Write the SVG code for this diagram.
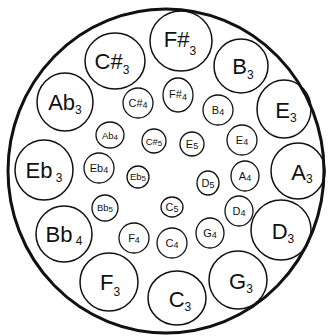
<svg xmlns="http://www.w3.org/2000/svg" width="329" height="336" viewBox="0 0 329 336">
<style>
.o{fill:none;stroke:#111;stroke-width:3}
.c{fill:none;stroke:#111;stroke-width:1.5}
.s{fill:none;stroke:#111;stroke-width:1.3}
text{font-family:"Liberation Sans","DejaVu Sans",sans-serif;fill:#111;text-anchor:middle}
.L{font-size:22px}
.M{font-size:11px}
.N{font-size:9.5px}
.d{font-size:12px}
.e{font-size:9px}
.f{font-size:8px}
</style>
<rect width="329" height="336" fill="#fff"/>
<ellipse class="o" cx="166" cy="171" rx="158" ry="162"/>
<g id="C_sharp3"><ellipse class="c" cx="115" cy="61" rx="30" ry="28"/><text class="L" x="112" y="69">C#<tspan class="d" dy="5">3</tspan></text></g>
<g id="F_sharp3"><ellipse class="c" cx="181" cy="41" rx="31" ry="30"/><text class="L" x="180" y="47">F#<tspan class="d" dy="8">3</tspan></text></g>
<g id="B3"><ellipse class="c" cx="241" cy="66" rx="27" ry="27"/><text class="L" x="243" y="74">B<tspan class="d" dy="5">3</tspan></text></g>
<g id="E3"><ellipse class="c" cx="284" cy="109" rx="27" ry="29"/><text class="L" x="286" y="118">E<tspan class="d" dy="4">3</tspan></text></g>
<g id="A3"><ellipse class="c" cx="298" cy="171" rx="27" ry="28"/><text class="L" x="302" y="180">A<tspan class="d" dy="3">3</tspan></text></g>
<g id="D3"><ellipse class="c" cx="281" cy="230" rx="30" ry="30"/><text class="L" x="283" y="239">D<tspan class="d" dy="4">3</tspan></text></g>
<g id="G3"><ellipse class="c" cx="238" cy="280" rx="29" ry="29"/><text class="L" x="241" y="289">G<tspan class="d" dy="4">3</tspan></text></g>
<g id="C3"><ellipse class="c" cx="177" cy="298" rx="29" ry="27"/><text class="L" x="180" y="307">C<tspan class="d" dy="4">3</tspan></text></g>
<g id="F3"><ellipse class="c" cx="109" cy="282" rx="29" ry="29"/><text class="L" x="110" y="290">F<tspan class="d" dy="6">3</tspan></text></g>
<g id="Bb4"><ellipse class="c" cx="64" cy="234" rx="28" ry="28"/><text class="L" x="64" y="242">Bb<tspan class="d" dy="3"> 4</tspan></text></g>
<g id="Eb3"><ellipse class="c" cx="44" cy="170" rx="29" ry="30"/><text class="L" x="44" y="178">Eb<tspan class="d" dy="4"> 3</tspan></text></g>
<g id="Ab3"><ellipse class="c" cx="65" cy="102" rx="28" ry="29"/><text class="L" x="65" y="110">Ab<tspan class="d" dy="4">3</tspan></text></g>
<g id="C_sharp4"><ellipse class="s" cx="138" cy="103" rx="15" ry="15"/><text class="M" x="138" y="107">C#<tspan class="e" dy="1">4</tspan></text></g>
<g id="F_sharp4"><ellipse class="s" cx="178" cy="95" rx="15" ry="17"/><text class="M" x="178" y="98">F#<tspan class="e" dy="2">4</tspan></text></g>
<g id="B4"><ellipse class="s" cx="218" cy="110" rx="15" ry="15"/><text class="M" x="218" y="114">B<tspan class="e" dy="1">4</tspan></text></g>
<g id="E4"><ellipse class="s" cx="242" cy="140" rx="15" ry="15"/><text class="M" x="242" y="144">E<tspan class="e" dy="1">4</tspan></text></g>
<g id="A4"><ellipse class="s" cx="245" cy="176" rx="14" ry="15"/><text class="M" x="245" y="180">A<tspan class="e" dy="1">4</tspan></text></g>
<g id="D4"><ellipse class="s" cx="239" cy="211" rx="14" ry="15"/><text class="M" x="239" y="215">D<tspan class="e" dy="1">4</tspan></text></g>
<g id="G4"><ellipse class="s" cx="210" cy="233" rx="14" ry="15"/><text class="M" x="210" y="237">G<tspan class="e" dy="1">4</tspan></text></g>
<g id="C4"><ellipse class="s" cx="172" cy="243" rx="15" ry="15"/><text class="M" x="172" y="247">C<tspan class="e" dy="1">4</tspan></text></g>
<g id="F4"><ellipse class="s" cx="134" cy="238" rx="15" ry="15"/><text class="M" x="134" y="242">F<tspan class="e" dy="1">4</tspan></text></g>
<g id="Bb5"><ellipse class="s" cx="105" cy="208" rx="13" ry="13"/><text class="N" x="105" y="211">Bb<tspan class="f" dy="1">5</tspan></text></g>
<g id="Eb4"><ellipse class="s" cx="99" cy="168" rx="15" ry="15"/><text class="M" x="99" y="172">Eb<tspan class="e" dy="1">4</tspan></text></g>
<g id="Ab4"><ellipse class="s" cx="110" cy="135" rx="14" ry="13"/><text class="N" x="110" y="139">Ab<tspan class="f" dy="1">4</tspan></text></g>
<g id="C_sharp5"><ellipse class="s" cx="154" cy="141" rx="12" ry="12"/><text class="N" x="154" y="145">C#<tspan class="f" dy="1">5</tspan></text></g>
<g id="E5"><ellipse class="s" cx="192" cy="144" rx="12" ry="12"/><text class="M" x="192" y="148">E<tspan class="e" dy="1">5</tspan></text></g>
<g id="Eb5"><ellipse class="s" cx="138" cy="177" rx="11" ry="11"/><text class="N" x="138" y="180">Eb<tspan class="f" dy="1">5</tspan></text></g>
<g id="D5"><ellipse class="s" cx="208" cy="183" rx="11" ry="12"/><text class="M" x="208" y="187">D<tspan class="e" dy="1">5</tspan></text></g>
<g id="C5"><ellipse class="s" cx="172" cy="207" rx="11" ry="10"/><text class="M" x="172" y="211">C<tspan class="e" dy="1">5</tspan></text></g>
<g id="connectors"></g>
</svg>
